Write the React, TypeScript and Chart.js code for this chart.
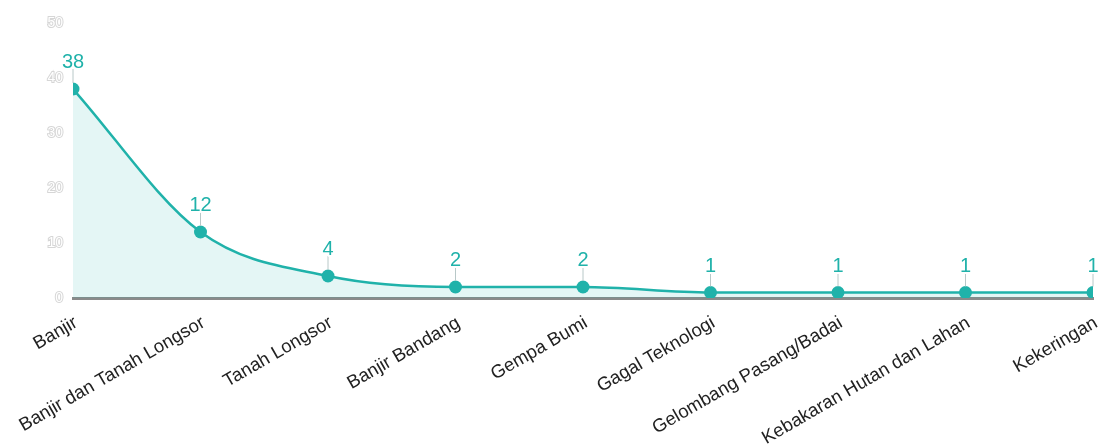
import React, { useEffect, useRef } from "react";
import { Chart, registerables } from "chart.js";

Chart.register(...registerables);

const categories = [
  "Banjir",
  "Banjir dan Tanah Longsor",
  "Tanah Longsor",
  "Banjir Bandang",
  "Gempa Bumi",
  "Gagal Teknologi",
  "Gelombang Pasang/Badai",
  "Kebakaran Hutan dan Lahan",
  "Kekeringan",
];
const values = [38, 12, 4, 2, 2, 1, 1, 1, 1];
const yMin = 0;
const yMax = 50;
const yStep = 10;

const TEAL = "#20b2aa";

const valueLabelPlugin = {
  id: "valueLabels",
  afterDatasetsDraw(chart: any) {
    const ctx = chart.ctx;
    const meta = chart.getDatasetMeta(0);
    const data = chart.data.datasets[0].data;
    ctx.save();
    meta.data.forEach((pt: any, i: number) => {
      const x = pt.x;
      const y = pt.y;
      const base = y - 21;
      ctx.strokeStyle = "#b8c8c8";
      ctx.lineWidth = 1;
      ctx.beginPath();
      ctx.moveTo(x, y - 6);
      ctx.lineTo(x, base + 1);
      ctx.stroke();
      ctx.font = "20px 'Liberation Sans', Arial, sans-serif";
      ctx.textAlign = "center";
      ctx.textBaseline = "alphabetic";
      ctx.lineJoin = "round";
      ctx.strokeStyle = "#ffffff";
      ctx.lineWidth = 4;
      const tx = Math.min(x, chart.width - 9);
      ctx.strokeText(String(data[i]), tx, base);
      ctx.fillStyle = TEAL;
      ctx.fillText(String(data[i]), tx, base);
    });
    ctx.restore();
  },
};

export default function App() {
  const ref = useRef<HTMLCanvasElement>(null);
  useEffect(() => {
    if (!ref.current) return;
    const chart = new Chart(ref.current, {
      type: "line",
      data: {
        labels: categories,
        datasets: [
          {
            data: values,
            borderColor: TEAL,
            backgroundColor: "rgba(32,178,170,0.12)",
            borderWidth: 2.5,
            fill: true,
            clip: 0,
            cubicInterpolationMode: "monotone",
            pointRadius: 6.5,
            pointBackgroundColor: TEAL,
            pointBorderColor: TEAL,
            pointBorderWidth: 0,
          },
        ],
      },
      plugins: [valueLabelPlugin],
      options: {
        animation: false,
        responsive: false,
        maintainAspectRatio: false,
        layout: { padding: { left: 8, right: 16, top: 23, bottom: 0 } },
        plugins: { legend: { display: false }, tooltip: { enabled: false } },
        scales: {
          x: {
            offset: false,
            grid: { display: false, drawTicks: false },
            border: { display: true, color: "#8a8a8a", width: 3 },
            ticks: {
              color: "#222",
              font: { size: 18.5, family: "'Liberation Sans', Arial, sans-serif" },
              minRotation: 30,
              maxRotation: 30,
              autoSkip: false,
              padding: 14,
              labelOffset: 3,
            },
            afterFit: (s: any) => {
              s.height = 150;
              s.paddingLeft = 0;
              s.paddingRight = 0;
            },
          },
          y: {
            min: yMin,
            max: yMax,
            grid: { display: false, drawTicks: false },
            border: { display: false },
            ticks: {
              stepSize: yStep,
              color: "#ffffff",
              textStrokeColor: "#d6d6d6",
              textStrokeWidth: 2,
              font: { size: 14, family: "'Liberation Sans', Arial, sans-serif" },
              padding: 10,
            },
            afterFit: (s: any) => {
              s.width = 65;
            },
          },
        },
      },
    });
    return () => chart.destroy();
  }, []);
  return (
    <div style={{ position: "fixed", left: 0, top: 0, width: 1109, height: 448, background: "#fff" }}>
      <canvas ref={ref} width={1109} height={448} />
    </div>
  );
}
